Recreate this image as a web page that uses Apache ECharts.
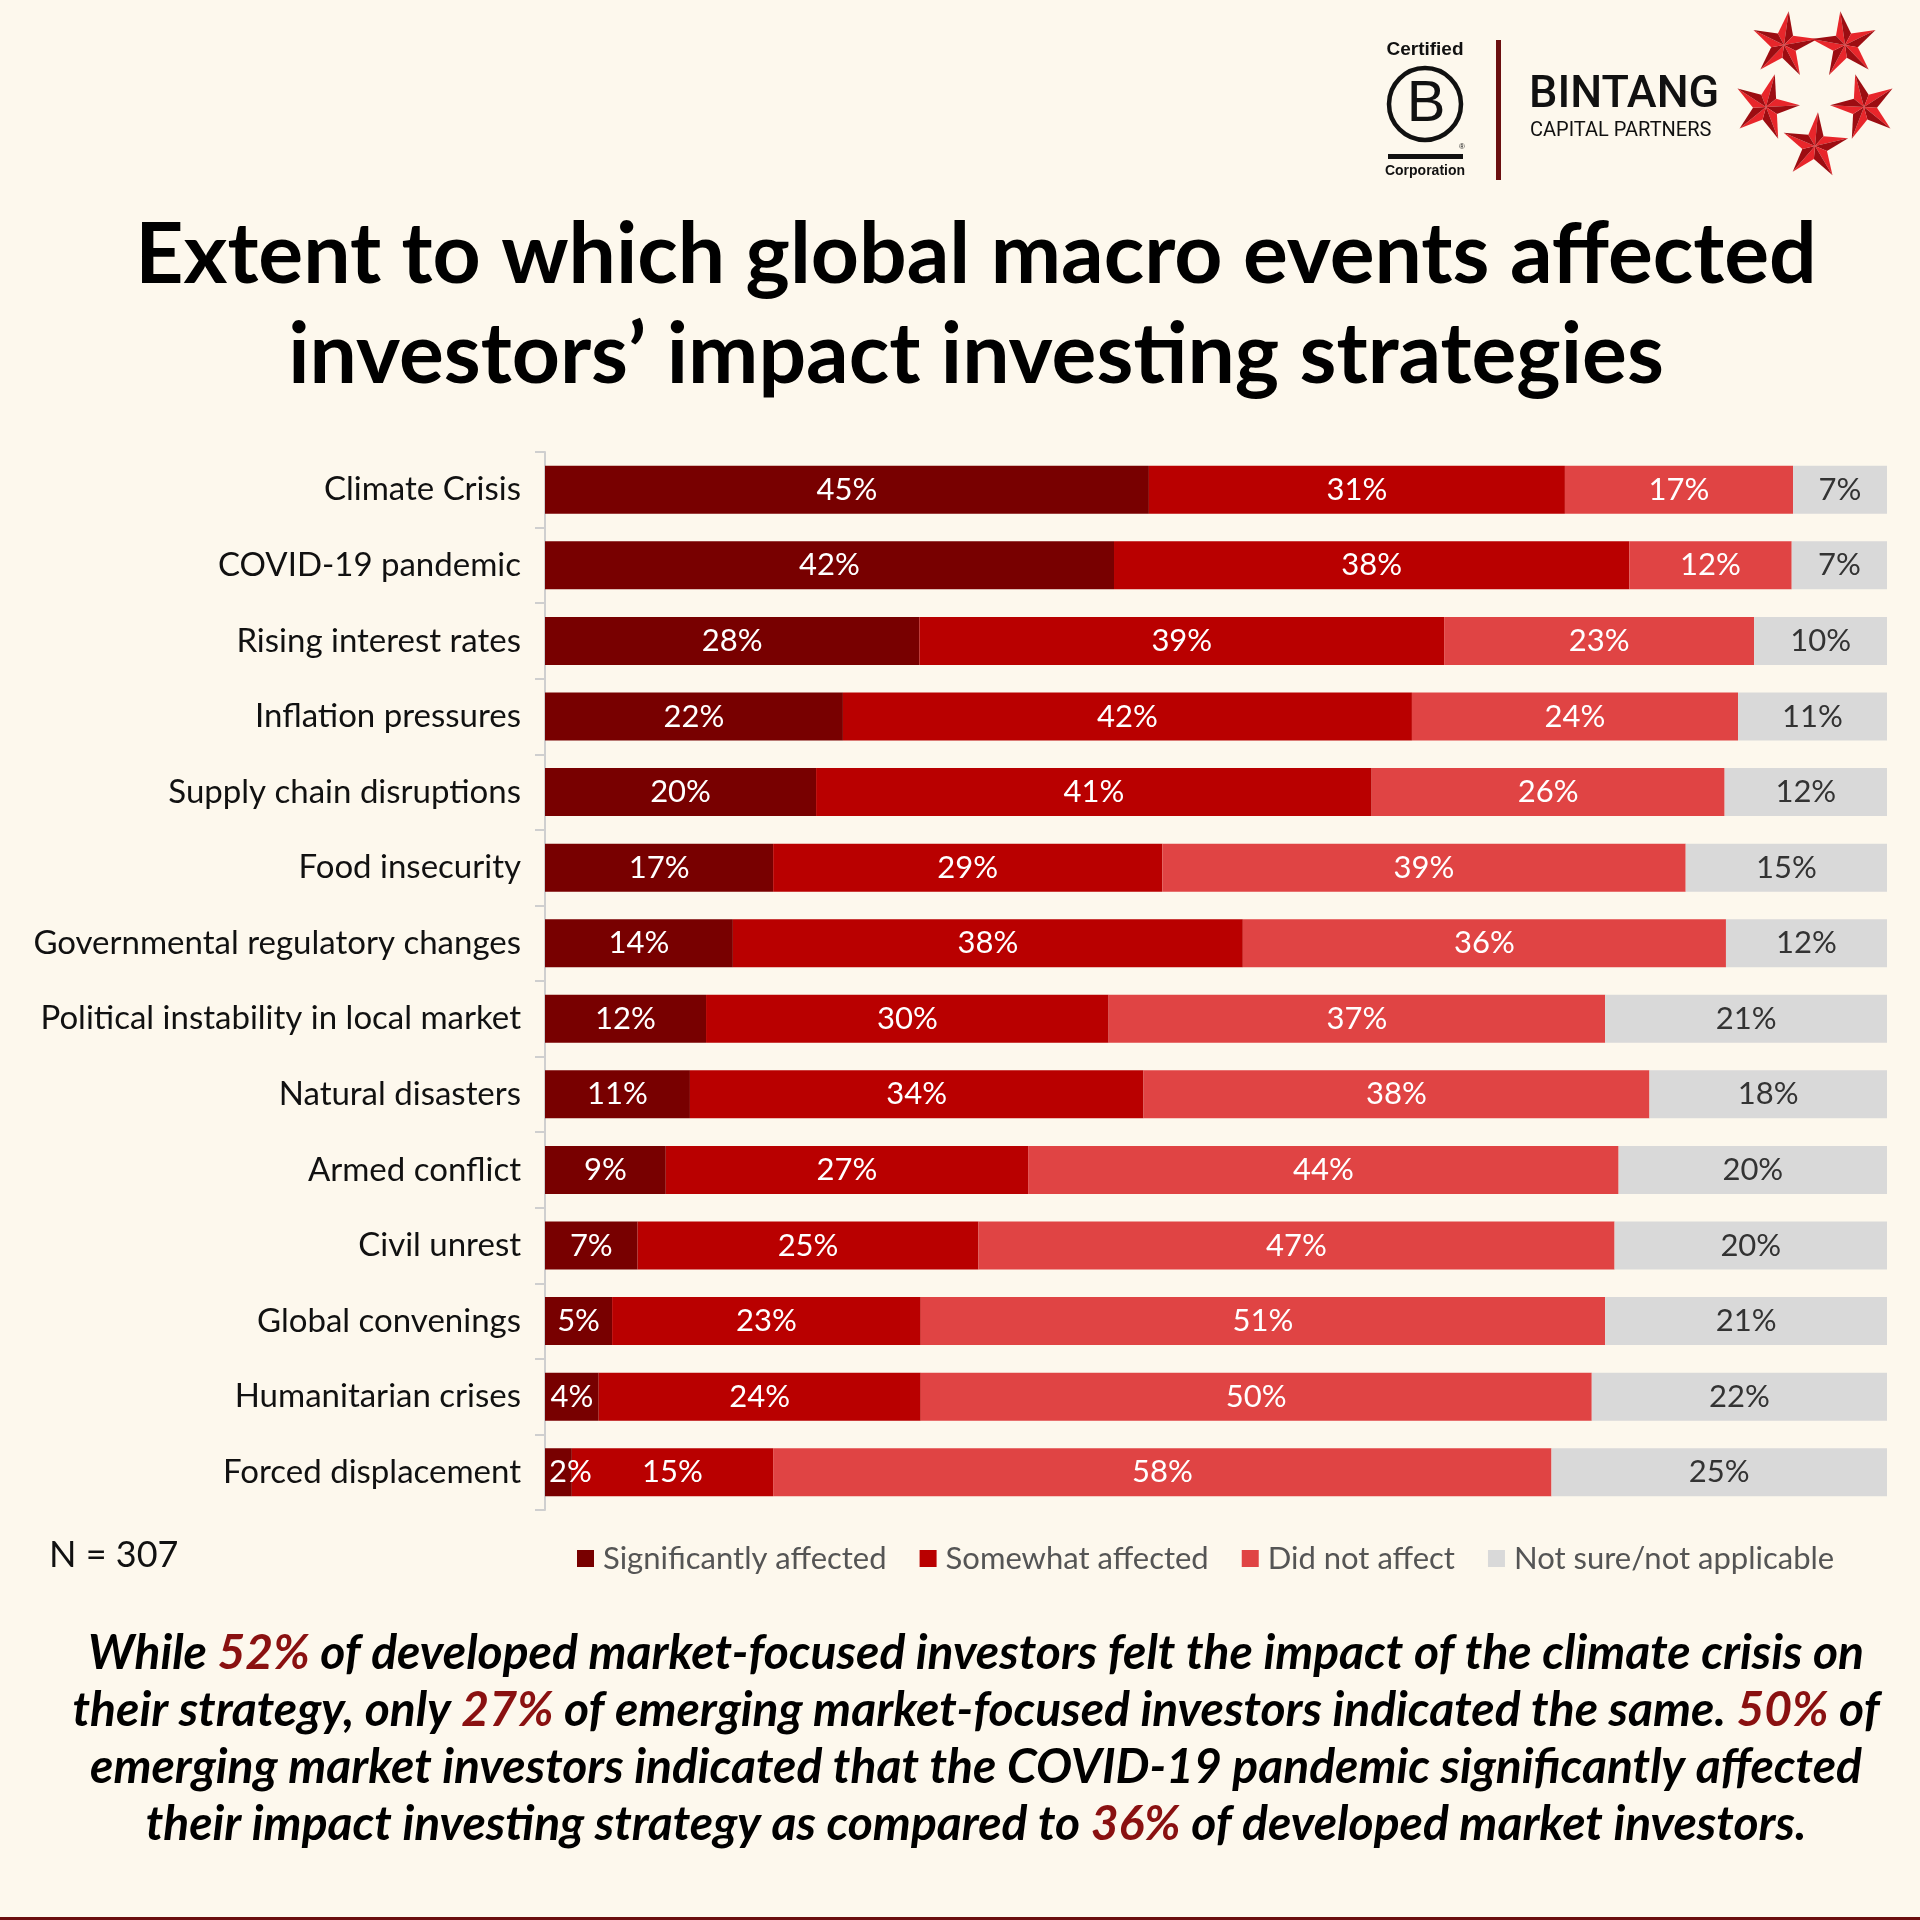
<!DOCTYPE html>
<html>
<head>
<meta charset="utf-8">
<script src="https://cdn.jsdelivr.net/npm/echarts@6/dist/echarts.min.js"></script>
<style>
html,body{margin:0;padding:0;background:#fdf8ed;}
#chart{width:1920px;height:1920px;}
</style>
</head>
<body>
<div id="chart"></div>
<script>
const categories = [
  'Climate Crisis','COVID-19 pandemic','Rising interest rates','Inflation pressures',
  'Supply chain disruptions','Food insecurity','Governmental regulatory changes',
  'Political instability in local market','Natural disasters','Armed conflict',
  'Civil unrest','Global convenings','Humanitarian crises','Forced displacement'
];
const seriesNames = ['Significantly affected','Somewhat affected','Did not affect','Not sure/not applicable'];
const significantly = [45, 42.4, 27.9, 22.2, 20.2, 17, 14, 12, 10.8, 9, 6.9, 5, 4, 2];
const somewhat      = [31, 38.4, 39.1, 42.4, 41.4, 29, 38, 30, 33.8, 27, 25.4, 23, 24, 15];
const didNotAffect  = [17, 12.1, 23.1, 24.3, 26.3, 39, 36, 37, 37.7, 44, 47.4, 51, 50, 58];
const notSure       = [7, 7.1, 9.9, 11.1, 12.1, 15, 12, 21, 17.7, 20, 20.3, 21, 22, 25];
const titleLines = ['Extent to which global macro events affected', 'investors\u2019 impact investing strategies'];
const sampleNote = 'N = 307';

const colors = ['#780000', '#b90000', '#e04444', '#d9d9d9'];
const labelColors = ['#ffffff', '#ffffff', '#ffffff', '#333333'];
const FONT = 'Lato, "Noto Sans", sans-serif';

function starShapes(cx, cy, R, r, rot) {
  const out = [];
  for (let i = 0; i < 5; i++) {
    const a = (rot - 90 + i * 72) * Math.PI / 180;
    const aL = a - 36 * Math.PI / 180, aR = a + 36 * Math.PI / 180;
    const tip = [cx + R * Math.cos(a), cy + R * Math.sin(a)];
    const pl = [cx + r * Math.cos(aL), cy + r * Math.sin(aL)];
    const pr = [cx + r * Math.cos(aR), cy + r * Math.sin(aR)];
    out.push({type: 'polygon', shape: {points: [[cx, cy], pl, tip]}, style: {fill: '#e8262b'}});
    out.push({type: 'polygon', shape: {points: [[cx, cy], tip, pr]}, style: {fill: '#9c0d12'}});
  }
  return out;
}

const footLines = [
  [['While ', 'n'], ['52%', 'h'], [' of developed market-focused investors felt the impact of the climate crisis on', 'n']],
  [['their strategy, only ', 'n'], ['27%', 'h'], [' of emerging market-focused investors indicated the same. ', 'n'], ['50%', 'h'], [' of', 'n']],
  [['emerging market investors indicated that the COVID-19 pandemic significantly affected', 'n']],
  [['their impact investing strategy as compared to ', 'n'], ['36%', 'h'], [' of developed market investors.', 'n']]
];

const graphics = [];
titleLines.forEach((t, i) => {
  graphics.push({type: 'text', x: 976, y: 256 + i * 100, style: {
    text: t, fill: '#000', font: 'bold 84px ' + FONT, align: 'center', verticalAlign: 'middle'}});
});
graphics.push({type: 'text', x: 49, y: 1555, style: {text: sampleNote, fill: '#111', font: '36px ' + FONT, align: 'left', verticalAlign: 'middle'}});
footLines.forEach((parts, i) => {
  graphics.push({type: 'text', x: 976, y: 1654 + i * 57, style: {
    text: parts.map(p => '{' + p[1] + '|' + p[0] + '}').join(''),
    align: 'center', verticalAlign: 'middle',
    rich: {
      n: {fill: '#000', font: 'italic bold 48px ' + FONT},
      h: {fill: '#8a1111', font: 'italic bold 48px ' + FONT}
    }
  }});
});
// logo
graphics.push({type: 'text', x: 1425, y: 50, style: {text: 'Certified', fill: '#111', font: 'bold 19px "Liberation Sans", Arial, sans-serif', align: 'center', verticalAlign: 'middle'}});
graphics.push({type: 'circle', shape: {cx: 1425, cy: 104, r: 36}, style: {fill: 'none', stroke: '#111', lineWidth: 4.5}});
graphics.push({type: 'text', x: 1426, y: 105, style: {text: 'B', fill: '#111', font: '58px "Liberation Sans", Arial, sans-serif', align: 'center', verticalAlign: 'middle'}});
graphics.push({type: 'text', x: 1462, y: 147, style: {text: '\u00ae', fill: '#111', font: '8px "Liberation Sans", Arial, sans-serif', align: 'center', verticalAlign: 'middle'}});
graphics.push({type: 'rect', shape: {x: 1388, y: 154, width: 75, height: 5}, style: {fill: '#111'}});
graphics.push({type: 'text', x: 1425, y: 171, style: {text: 'Corporation', fill: '#111', font: 'bold 14px "Liberation Sans", Arial, sans-serif', align: 'center', verticalAlign: 'middle'}});
graphics.push({type: 'rect', shape: {x: 1496, y: 40, width: 5, height: 140}, style: {fill: '#6b0f0f'}});
graphics.push({type: 'text', x: 1529, y: 96, style: {text: 'BINTANG', fill: '#111', font: '500 45px Roboto, "Liberation Sans", sans-serif', align: 'left', verticalAlign: 'middle'}});
graphics.push({type: 'text', x: 1530, y: 131, style: {text: 'CAPITAL PARTNERS', fill: '#111', font: '20px Roboto, "Liberation Sans", sans-serif', align: 'left', verticalAlign: 'middle'}});
[[1784, 45, 8], [1845, 45, -8], [1766, 107, 15], [1864, 107, -15], [1815, 146, 5]].forEach(s => {
  starShapes(s[0], s[1], 34, 13, s[2]).forEach(g => graphics.push(g));
});
graphics.push({type: 'rect', shape: {x: 0, y: 1917, width: 1920, height: 3}, style: {fill: '#6b0f0f'}});

const dataSets = [significantly, somewhat, didNotAffect, notSure];
const series = dataSets.map((d, i) => ({
  name: seriesNames[i],
  type: 'bar',
  stack: 'total',
  data: d.map(v => v < 3 ? {value: v, label: {position: 'insideLeft', distance: 4}} : v),
  barWidth: 48,
  itemStyle: {color: colors[i]},
  label: {
    show: true, position: 'inside', color: labelColors[i],
    fontSize: 31, fontFamily: FONT,
    formatter: p => Math.round(p.value) + '%'
  },
  labelLayout: {hideOverlap: false},
  emphasis: {disabled: true}
}));

const chart = echarts.init(document.getElementById('chart'), null, {renderer: 'canvas'});
chart.setOption({
  backgroundColor: '#fdf8ed',
  animation: false,
  grid: {left: 545, right: 33, top: 452, bottom: 410, containLabel: false},
  legend: {
    data: seriesNames, left: 572, top: 1538,
    itemWidth: 17, itemHeight: 17, itemGap: 33, icon: 'rect',
    textStyle: {fontSize: 31, color: '#555', fontFamily: FONT, padding: [0, 0, 0, 4]}
  },
  xAxis: {type: 'value', min: 0, max: 100, show: false},
  yAxis: {
    type: 'category', inverse: true, data: categories,
    axisLine: {show: true, lineStyle: {color: '#cfcfcf', width: 2}},
    axisTick: {show: true, length: 10, lineStyle: {color: '#cfcfcf', width: 2}},
    axisLabel: {fontSize: 33, color: '#111', margin: 24, fontFamily: FONT}
  },
  series: series,
  graphic: {elements: graphics}
});
</script>
</body>
</html>
